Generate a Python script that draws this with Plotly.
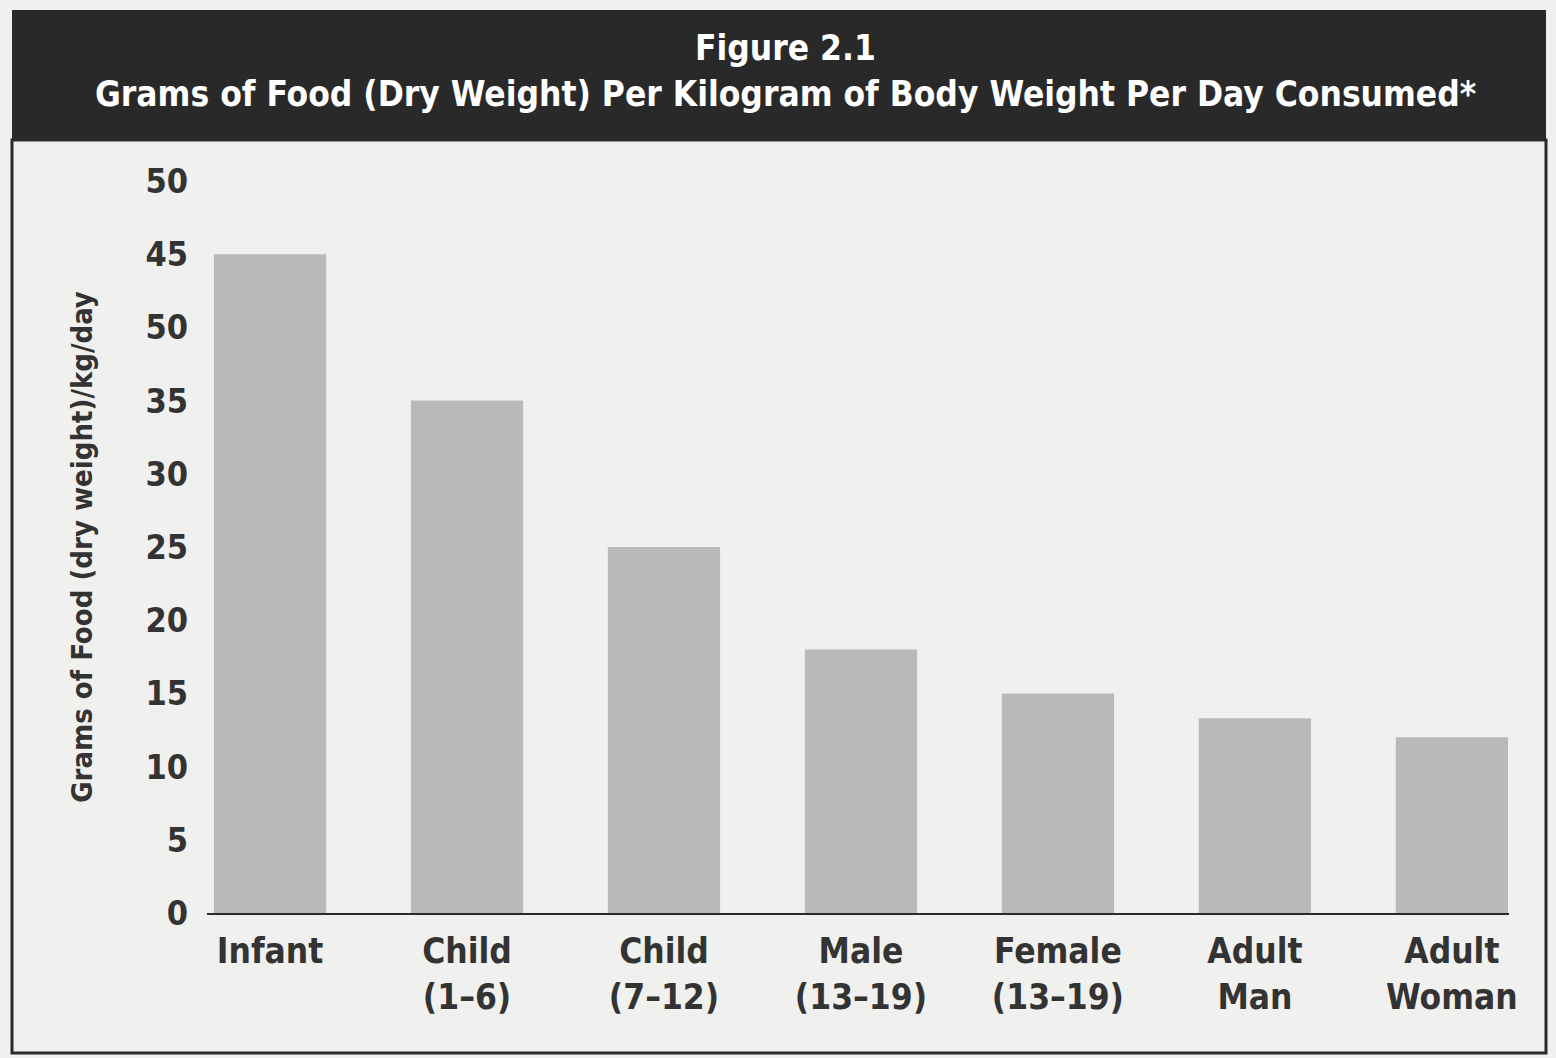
import plotly.graph_objects as go

categories = ["Infant", "Child<br>(1–6)", "Child<br>(7–12)", "Male<br>(13–19)",
              "Female<br>(13–19)", "Adult<br>Man", "Adult<br>Woman"]
values = [45, 35, 25, 18, 15, 13.3, 12]
tick_vals = [0, 5, 10, 15, 20, 25, 30, 35, 40, 45, 50]
tick_text = ["0", "5", "10", "15", "20", "25", "30", "35", "50", "45", "50"]

FONT = "DejaVu Sans Condensed, Liberation Sans Narrow, sans-serif"
W, H = 1556, 1058
L, R, T, B = 207, 47, 181, 145
pw, ph = W - L - R, H - T - B

def px(x):
    return (x - L) / pw

def py(y):
    return (H - B - y) / ph

fig = go.Figure(go.Bar(
    x=categories, y=values,
    marker=dict(color="#b9b9b9", line=dict(width=0)),
    width=0.57,
))

fig.update_layout(
    width=W, height=H,
    margin=dict(l=L, r=R, t=T, b=B),
    paper_bgcolor="#f0f0ee",
    plot_bgcolor="#f0f0ee",
    showlegend=False,
    font=dict(family=FONT, color="#333333"),
    xaxis=dict(
        range=[-0.32, 6.29],
        showgrid=False, zeroline=False,
        showline=True, linecolor="#2a2a2a", linewidth=2,
        ticks="", ticklabelstandoff=6,
        tickfont=dict(size=35, family=FONT, color="#333333", weight="bold"),
        tickangle=0,
    ),
    yaxis=dict(
        range=[0, 50],
        showgrid=False, zeroline=False, showline=False,
        tickvals=tick_vals, ticktext=tick_text,
        ticks="", ticklabelstandoff=18,
        tickfont=dict(size=34, family=FONT, color="#333333", weight="bold"),
        title=dict(text="Grams of Food (dry weight)/kg/day",
                   font=dict(size=29, family=FONT, color="#333333", weight="bold"), standoff=44),
    ),
    shapes=[
        dict(type="rect", xref="paper", yref="paper",
             x0=px(12), x1=px(1546), y0=py(1053), y1=py(140),
             line=dict(color="#2a2a2a", width=3), fillcolor="rgba(0,0,0,0)", layer="below"),
        dict(type="rect", xref="paper", yref="paper",
             x0=px(12), x1=px(1546), y0=py(140), y1=py(10),
             line=dict(width=0), fillcolor="#292929", layer="below"),
    ],
    annotations=[
        dict(text="<b>Figure 2.1</b>", xref="paper", yref="paper",
             x=px(785), y=py(48), showarrow=False, xanchor="center", yanchor="middle",
             font=dict(size=35, color="white", family=FONT)),
        dict(text="<b>Grams of Food (Dry Weight) Per Kilogram of Body Weight Per Day Consumed*</b>",
             xref="paper", yref="paper",
             x=px(785), y=py(94), showarrow=False, xanchor="center", yanchor="middle",
             font=dict(size=35, color="white", family=FONT)),
    ],
)

fig.write_html("out.html")
